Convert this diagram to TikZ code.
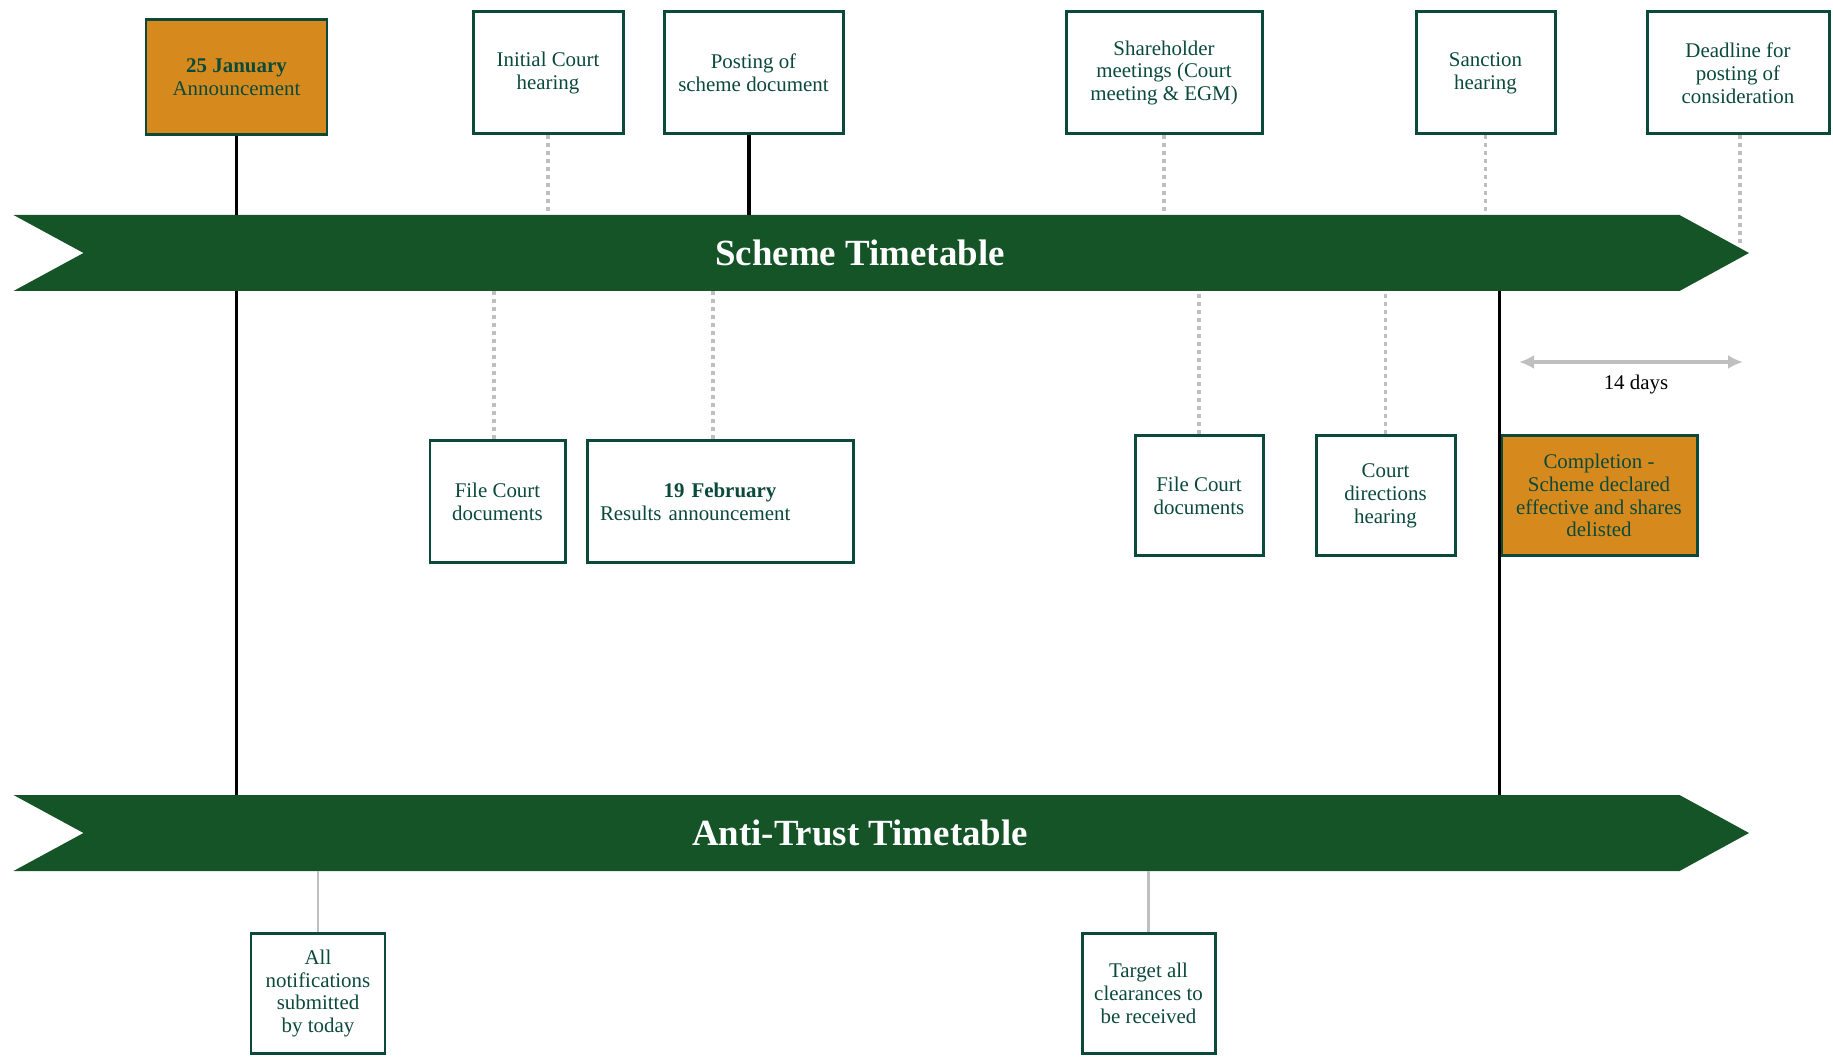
\documentclass[tikz,border=0pt]{standalone}
\usepackage{fontspec}
\setmainfont{Liberation Serif}
\usetikzlibrary{arrows.meta,positioning}
\definecolor{bannergreen}{HTML}{145426}
\definecolor{boxgreen}{HTML}{0B4A3B}
\definecolor{keyorange}{HTML}{D68A1D}
\definecolor{linegray}{HTML}{BFBFBF}

\begin{document}
\begin{tikzpicture}[
  event/.style={draw=boxgreen, line width=1.7pt, fill=white, text=boxgreen, align=center,
    inner sep=2pt, font=\fontsize{11.9}{13}\selectfont},
  key/.style={event, fill=keyorange},
  tick/.style={line width=1.8pt, black},
  dots/.style={linegray, line width=1.9pt, dash pattern=on 0.08cm off 0.08cm},
  stem/.style={linegray, line width=1.6pt},
  span/.style={linegray, line width=1.8pt, {Latex[length=0.3cm,width=0.28cm]}-{Latex[length=0.3cm,width=0.28cm]}},
  title/.style={text=white, inner sep=0pt, minimum height=1.52cm, font=\fontsize{21}{24}\selectfont\bfseries}
]
  \useasboundingbox (0,0) rectangle (36.66,21.12);

  % Banners
  \fill[bannergreen] (0.27,16.82) -- (33.59,16.82) -- (34.98,16.06) -- (33.59,15.30)
    -- (0.27,15.30) -- (1.67,16.06) -- cycle;
  \fill[bannergreen] (0.27,5.22) -- (33.59,5.22) -- (34.98,4.46) -- (33.59,3.70)
    -- (0.27,3.70) -- (1.67,4.46) -- cycle;
  \node[title] (scheme) at (17.2,16.06) {Scheme Timetable};
  \node[title] (anti) at (17.2,4.46) {Anti-Trust Timetable};

  % Scheme events, above
  \node[key, minimum width=3.62cm, minimum height=2.3cm] (ann) at (4.73,19.58)
    {\textbf{25 January}\\Announcement};
  \node[event, minimum width=3.0cm, minimum height=2.44cm] (init) at (10.96,19.66)
    {Initial Court\\hearing};
  \node[event, minimum width=3.58cm, minimum height=2.44cm] (post) at (15.07,19.66)
    {Posting of\\scheme document};
  \node[event, minimum width=3.92cm, minimum height=2.44cm] (share) at (23.28,19.66)
    {Shareholder\\meetings (Court\\meeting \& EGM)};
  \node[event, minimum width=2.78cm, minimum height=2.44cm] (sanct) at (29.71,19.66)
    {Sanction\\hearing};
  \node[event, minimum width=3.64cm, minimum height=2.44cm] (dead) at (34.76,19.66)
    {Deadline for\\posting of\\consideration};

  % Scheme events, below
  \node[event, minimum width=2.7cm, minimum height=2.44cm] (fc1) at (9.95,11.09)
    {File Court\\documents};
  \node[event, minimum width=5.32cm, minimum height=2.44cm, align=left, text width=4.8cm] (res) at (14.40,11.09)
    {\makebox[\linewidth]{\textbf{19 February}}\\Results announcement};
  \node[event, minimum width=2.56cm, minimum height=2.4cm] (fc2) at (23.98,11.21)
    {File Court\\documents};
  \node[event, minimum width=2.78cm, minimum height=2.4cm] (dir) at (27.71,11.21)
    {Court\\directions\\hearing};
  \node[key, minimum width=3.92cm, minimum height=2.4cm] (comp) at (31.98,11.21)
    {Completion -\\Scheme declared\\effective and shares\\delisted};

  % Anti-trust events
  \node[event, minimum width=2.68cm, minimum height=2.4cm] (notif) at (6.36,1.25)
    {All\\notifications\\submitted\\by today};
  \node[event, minimum width=2.66cm, minimum height=2.4cm] (target) at (22.97,1.25)
    {Target all\\clearances to\\be received};

  % Links to the scheme banner
  \draw[tick] (ann.south) -- (ann.south |- scheme.north);
  \draw[tick] (ann.south |- scheme.south) -- (ann.south |- anti.north);
  \draw[dots] (init.south) -- (init.south |- scheme.north);
  \draw[tick] ([xshift=-0.09cm]post.south) -- ([xshift=-0.09cm]post.south |- scheme.north);
  \draw[dots] (share.south) -- (share.south |- scheme.north);
  \draw[dots] (sanct.south) -- (sanct.south |- scheme.north);
  \coordinate (tip) at (34.8,16.18);
  \draw[dots] (dead.south -| tip) -- (tip);

  \draw[dots] ([xshift=-0.07cm]fc1.north) -- ([xshift=-0.07cm]fc1.north |- scheme.south);
  \draw[dots] ([xshift=-0.14cm]res.north) -- ([xshift=-0.14cm]res.north |- scheme.south);
  \draw[dots] (fc2.north) -- (fc2.north |- scheme.south);
  \draw[dots] (dir.north) -- (dir.north |- scheme.south);
  \draw[tick] (comp.west |- scheme.south) -- (comp.west |- anti.north);

  % 14 days
  \coordinate (d1) at (30.38,13.88);
  \coordinate (d2) at (34.86,13.88);
  \draw[span] (d1) -- (d2);
  \node[font=\fontsize{11.9}{13}\selectfont] (days) at (32.72,13.42) {14 days};

  % Links to the anti-trust banner
  \draw[stem] (notif.north) -- (notif.north |- anti.south);
  \draw[stem] (target.north) -- (target.north |- anti.south);
\end{tikzpicture}
\end{document}
